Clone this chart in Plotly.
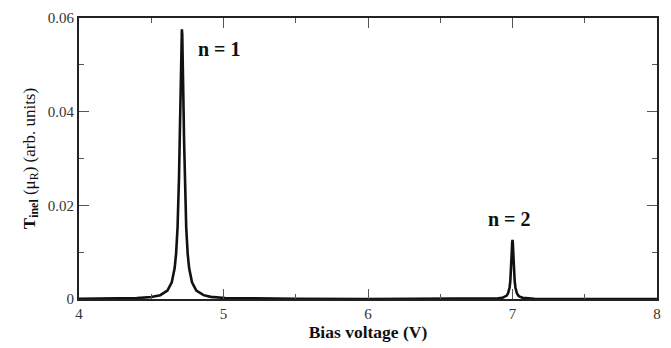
import plotly.graph_objects as go

# Curve samples (bias voltage in V, T_inel in arb. units)
bias_v = [4.0, 4.1, 4.2, 4.3, 4.4, 4.5, 4.562, 4.612, 4.642, 4.662, 4.672, 4.682, 4.687,
          4.692, 4.697, 4.6995, 4.702, 4.7045, 4.707, 4.7095, 4.712, 4.7145, 4.717, 4.7195,
          4.722, 4.7245, 4.727, 4.732, 4.737, 4.742, 4.752, 4.762, 4.782, 4.812, 4.862,
          4.912, 5.012, 5.2, 5.5, 6.0, 6.5, 6.7, 6.8, 6.85, 6.9, 6.93, 6.95, 6.96, 6.97,
          6.975, 6.98, 6.985, 6.9875, 6.99, 6.9925, 6.995, 6.9975, 7.0, 7.0025, 7.005,
          7.0075, 7.01, 7.0125, 7.015, 7.02, 7.025, 7.03, 7.04, 7.05, 7.07, 7.1, 7.15,
          7.3, 7.5, 8.0]
t_inel = [0.00004, 0.00005, 0.00007, 0.00011, 0.00019, 0.00041, 0.00082, 0.00181, 0.00357,
          0.0066, 0.0097, 0.01525, 0.0197, 0.0258, 0.0340, 0.0389, 0.0440, 0.0491, 0.0535,
          0.0565, 0.0576, 0.0565, 0.0535, 0.0491, 0.0440, 0.0389, 0.0340, 0.0258, 0.0197,
          0.01525, 0.0097, 0.0066, 0.00357, 0.00181, 0.00082, 0.00046, 0.00021, 0.00008,
          0.00003, 0.000012, 0.000011, 0.000019, 0.000036, 0.00006, 0.00013, 0.00025,
          0.000485, 0.00074, 0.00126, 0.00174, 0.00252, 0.00388, 0.00492, 0.0063, 0.00806,
          0.01008, 0.01186, 0.0126, 0.01186, 0.01008, 0.00806, 0.0063, 0.00492, 0.00388,
          0.00252, 0.00174, 0.00126, 0.00074, 0.000485, 0.00025, 0.000125, 0.000056,
          0.000014, 0.000005, 0.000002]

labels = ["<b>n = 1</b>", "<b>n = 2</b>"]
label_x = [4.975, 6.98]
label_y = [0.0534, 0.0170]

x_ticks = [4, 5, 6, 7, 8]
y_ticks = [0, 0.02, 0.04, 0.06]
y_tick_text = ["0", "0.02", "0.04", "0.06"]

serif = "Liberation Serif, Times New Roman, serif"

fig = go.Figure()
fig.add_trace(go.Scatter(x=bias_v, y=t_inel, mode="lines",
                         line=dict(color="#111111", width=2.6),
                         showlegend=False, hoverinfo="skip"))

for t, lx, ly in zip(labels, label_x, label_y):
    fig.add_annotation(x=lx, y=ly, text=t, showarrow=False,
                       font=dict(family=serif, size=20, color="#111111"))

axis_common = dict(showline=True, linecolor="#222222", linewidth=2, mirror="allticks",
                   ticks="inside", ticklen=10, tickwidth=1, tickcolor="#555555",
                   showgrid=False, zeroline=False,
                   tickfont=dict(family=serif, size=15, color="#333333"))

fig.update_xaxes(range=[4, 8], tickvals=x_ticks, ticktext=[str(v) for v in x_ticks],
                 minor=dict(ticks="inside", ticklen=5, tickwidth=1, tickcolor="#555555",
                            dtick=0.5, showgrid=False),
                 title=dict(text="<b>Bias voltage (V)</b>", standoff=4,
                            font=dict(family=serif, size=17.5, color="#111111")),
                 **axis_common)
fig.update_yaxes(range=[0, 0.06], tickvals=y_ticks, ticktext=y_tick_text,
                 minor=dict(ticks="inside", ticklen=5, tickwidth=1, tickcolor="#555555",
                            dtick=0.01, showgrid=False),
                 title=dict(text="<b>T<sub>inel</sub></b> (μ<sub>R</sub>) (arb. units)", standoff=8,
                            font=dict(family=serif, size=17, color="#111111")),
                 **axis_common)

fig.update_layout(width=671, height=348, margin=dict(l=79, r=12, t=10, b=49),
                  plot_bgcolor="white", paper_bgcolor="white")

fig.write_html("out.html", config={"displayModeBar": False},
               post_script="document.body.style.margin='0px';document.body.style.overflow='hidden';")
